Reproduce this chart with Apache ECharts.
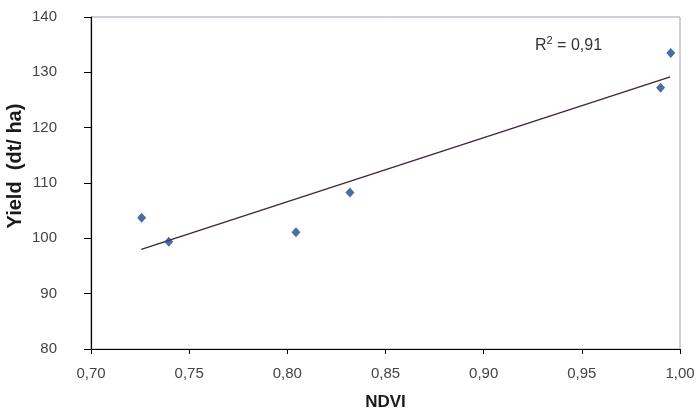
<!DOCTYPE html>
<html>
<head>
<meta charset="utf-8">
<script src="https://cdn.jsdelivr.net/npm/echarts@6/dist/echarts.min.js"></script>
<style>
  html, body { margin: 0; padding: 0; background: #fff; }
  #main { width: 699px; height: 409px; }
</style>
</head>
<body>
<div id="main"></div>
<script>
// 散点数据 NDVI / 产量
const ndvi = [0.7258, 0.7396, 0.8044, 0.8319, 0.9901, 0.9953]
const yieldVals = [103.7, 99.4, 101.1, 108.3, 127.2, 133.5]
// 趋势线两端
const trendX = [0.7256, 0.995]
const trendY = [98.0, 129.2]
const rSquared = '0,91'

const fmt = (v) => v.toFixed(2).replace('.', ',')
const font = 'Liberation Sans, Arial, sans-serif'

var chartDom = document.getElementById('main')
var myChart = echarts.init(chartDom)
let option = {
  animation: false,
  textStyle: { fontFamily: font },
  grid: {
    left: 91,
    right: 19,
    top: 17,
    bottom: 60,
    outerBoundsMode: 'none',
    containLabel: false,
    show: true,
    borderColor: '#9ea2b0',
    borderWidth: 1,
  },
  xAxis: {
    type: 'value',
    min: 0.7,
    max: 1.0,
    interval: 0.05,
    name: 'NDVI',
    nameLocation: 'middle',
    nameGap: 45,
    nameMoveOverlap: false,
    nameTextStyle: { fontSize: 17, fontWeight: 'bold', color: '#1a1a1a' },
    axisLine: { lineStyle: { color: '#000', width: 1.2 } },
    axisTick: { inside: false, length: 5, lineStyle: { color: '#000' } },
    axisLabel: {
      margin: 17,
      fontSize: 15,
      color: '#444',
      formatter: (v) => fmt(v),
    },
    splitLine: { show: false },
  },
  yAxis: {
    type: 'value',
    min: 80,
    max: 140,
    interval: 10,
    name: 'Yield  (dt/ ha)',
    nameLocation: 'middle',
    nameGap: 66,
    nameMoveOverlap: false,
    nameRotate: 90,
    nameTextStyle: {
      fontSize: 20,
      fontWeight: 'bold',
      color: '#1a1a1a',
      padding: [0, 0, 0, 34],
    },
    axisLine: { show: true, lineStyle: { color: '#000', width: 1.2 } },
    axisTick: { show: true, length: 7, lineStyle: { color: '#000' } },
    axisLabel: { margin: 34, fontSize: 15, color: '#444' },
    splitLine: { show: false },
  },
  series: [
    {
      name: 'trend',
      type: 'line',
      data: trendX.map((x, i) => [x, trendY[i]]),
      symbol: 'none',
      lineStyle: { color: '#4a1f3a', width: 1.3 },
      z: 2,
    },
    {
      name: 'yield',
      type: 'scatter',
      data: ndvi.map((x, i) => [x, yieldVals[i]]),
      symbol: 'diamond',
      symbolSize: [9, 10],
      itemStyle: { color: '#1c4a8c' },
      z: 3,
    },
  ],
  graphic: [
    {
      type: 'text',
      left: 535,
      top: 35,
      style: {
        text: '{b|R}{s|2}{b| = ' + rSquared + '}',
        rich: {
          b: { fontSize: 16, fill: '#333', fontFamily: font, verticalAlign: 'bottom' },
          s: { fontSize: 11, fill: '#333', fontFamily: font, verticalAlign: 'top', padding: [0, 0, 8, 0] },
        },
      },
    },
  ],
}
option && myChart.setOption(option)
</script>
</body>
</html>
